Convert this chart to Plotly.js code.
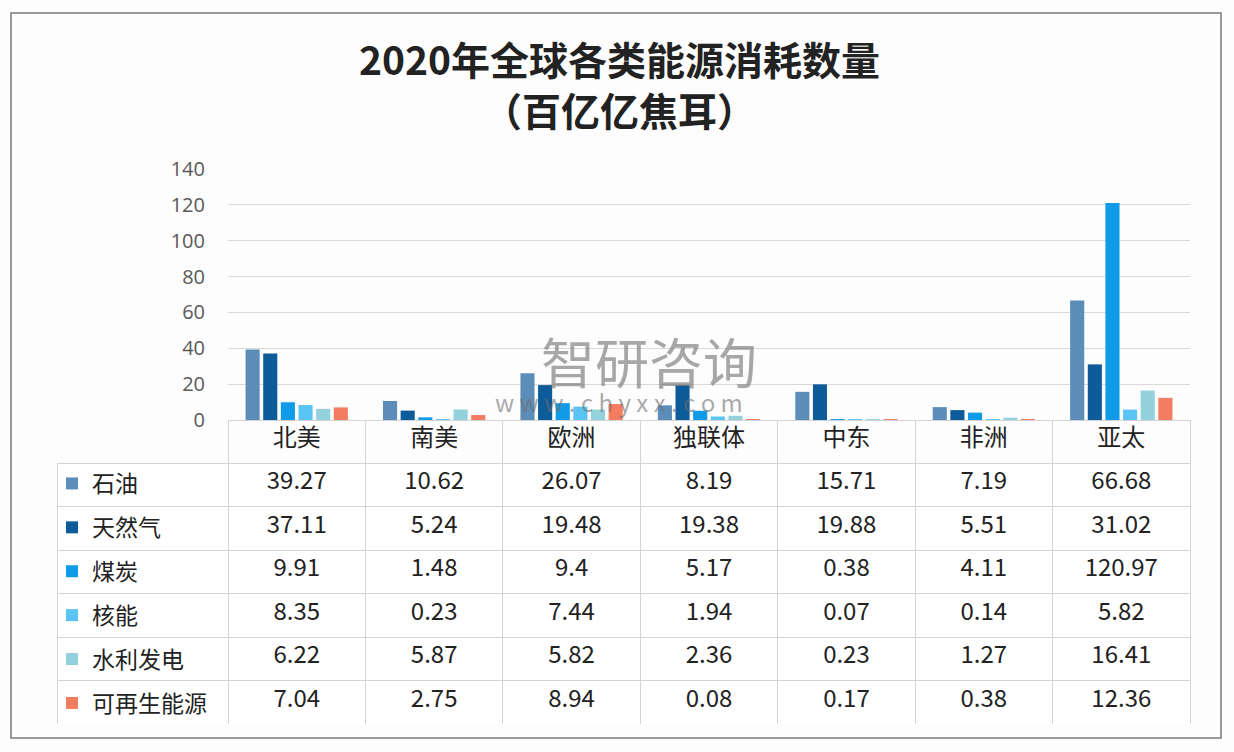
<!DOCTYPE html>
<html>
<head>
<meta charset="utf-8">
<script src="https://cdn.plot.ly/plotly-3.0.1.min.js"></script>
<style>
  html, body { margin: 0; padding: 0; background: #fdfdfd; }
  #chart { width: 1234px; height: 752px; }
</style>
</head>
<body>
<div id="chart"></div>
<script>
var regions = ['北美', '南美', '欧洲', '独联体', '中东', '非洲', '亚太'];

var seriesNames = ['石油', '天然气', '煤炭', '核能', '水利发电', '可再生能源'];
var seriesColors = ['#5b8db8', '#0d5c99', '#0f9be8', '#5ac4f5', '#93d2dc', '#f47c60'];

var oil = [39.27, 10.62, 26.07, 8.19, 15.71, 7.19, 66.68];
var gas = [37.11, 5.24, 19.48, 19.38, 19.88, 5.51, 31.02];
var coal = [9.91, 1.48, 9.4, 5.17, 0.38, 4.11, 120.97];
var nuclear = [8.35, 0.23, 7.44, 1.94, 0.07, 0.14, 5.82];
var hydro = [6.22, 5.87, 5.82, 2.36, 0.23, 1.27, 16.41];
var renewables = [7.04, 2.75, 8.94, 0.08, 0.17, 0.38, 12.36];

var seriesValues = [oil, gas, coal, nuclear, hydro, renewables];

var FONT = '"Noto Sans CJK SC", "Noto Sans", sans-serif';

// bars, each series in its own legend group so the legend rows can be spaced like the table rows
var traces = seriesNames.map(function (name, i) {
  return {
    x: regions,
    y: seriesValues[i],
    name: name,
    type: 'bar',
    legendgroup: 'g' + i,
    marker: { color: seriesColors[i] },
    hoverinfo: 'x+y+name'
  };
});

// data table under the chart; first column left empty, the legend sits there
var tableCols = [seriesNames.map(function () { return ''; })];
regions.forEach(function (r, j) {
  tableCols.push(seriesValues.map(function (s) { return String(s[j]); }));
});

var lineCol = '#d4d4d4';
var headerLine = ['rgba(0,0,0,0)'].concat(regions.map(function () { return lineCol; }));
var colWidth = [171].concat(regions.map(function () { return 137.4; }));

traces.push({
  type: 'table',
  domain: { x: [57 / 1234, 1190 / 1234], y: [1 - 724 / 752, 1 - 420 / 752] },
  columnwidth: colWidth,
  header: {
    values: [''].concat(regions),
    height: 43,
    align: 'center',
    fill: { color: 'rgba(0,0,0,0)' },
    line: { color: headerLine, width: 1 },
    font: { family: FONT, size: 24, color: '#222' }
  },
  cells: {
    values: tableCols,
    height: 43.5,
    align: 'center',
    fill: { color: '#ffffff' },
    line: { color: lineCol, width: 1 },
    font: { family: FONT, size: 24, color: '#222' }
  }
});

var layout = {
  width: 1234,
  height: 752,
  paper_bgcolor: '#fdfdfd',
  plot_bgcolor: 'rgba(0,0,0,0)',
  margin: { l: 0, r: 0, t: 0, b: 0 },
  font: { family: FONT, color: '#333' },
  title: {
    text: '<b>2020年全球各类能源消耗数量<br>（百亿亿焦耳）</b>',
    font: { family: FONT, size: 39, color: '#222' },
    x: 0.502,
    xanchor: 'center',
    y: 1 - 75 / 752,
    yanchor: 'top',
    yref: 'container'
  },
  showlegend: true,
  legend: {
    x: 52 / 1234,
    xanchor: 'left',
    y: 1 - 462 / 752,
    yanchor: 'top',
    traceorder: 'grouped',
    tracegroupgap: 11,
    bgcolor: 'rgba(0,0,0,0)',
    font: { family: FONT, size: 23, color: '#222' }
  },
  barmode: 'group',
  bargap: 0.23,
  bargroupgap: 0.2,
  xaxis: {
    domain: [228 / 1234, 1190 / 1234],
    showticklabels: false,
    showgrid: false,
    zeroline: false,
    showline: false,
    ticks: ''
  },
  yaxis: {
    domain: [1 - 420 / 752, 1 - 169 / 752],
    range: [0, 140],
    dtick: 20,
    showgrid: true,
    gridcolor: '#d9d9d9',
    zeroline: true,
    zerolinecolor: '#d9d9d9',
    showline: false,
    ticks: '',
    ticklabelstandoff: 22,
    tickfont: { family: '"Open Sans", "Noto Sans", sans-serif', size: 20, color: '#595959' }
  },
  shapes: [
    { type: 'rect', xref: 'paper', yref: 'paper',
      x0: 11 / 1234, x1: 1221 / 1234, y0: 1 - 738 / 752, y1: 1 - 13 / 752,
      line: { color: '#7a7a7a', width: 1.5 }, fillcolor: 'rgba(0,0,0,0)', layer: 'below' }
  ],
  annotations: [
    { text: '智研咨询', xref: 'paper', yref: 'paper',
      x: 649 / 1234, y: 1 - 360 / 752, showarrow: false,
      font: { family: FONT, size: 54, color: 'rgba(110,110,110,0.6)' } },
    { text: 'w w w . c h y x x . c o m', xref: 'paper', yref: 'paper',
      x: 619 / 1234, y: 1 - 401 / 752, showarrow: false,
      font: { family: FONT, size: 24, color: 'rgba(110,110,110,0.6)' } }
  ]
};

Plotly.newPlot('chart', traces, layout, { displayModeBar: false });
</script>
</body>
</html>
